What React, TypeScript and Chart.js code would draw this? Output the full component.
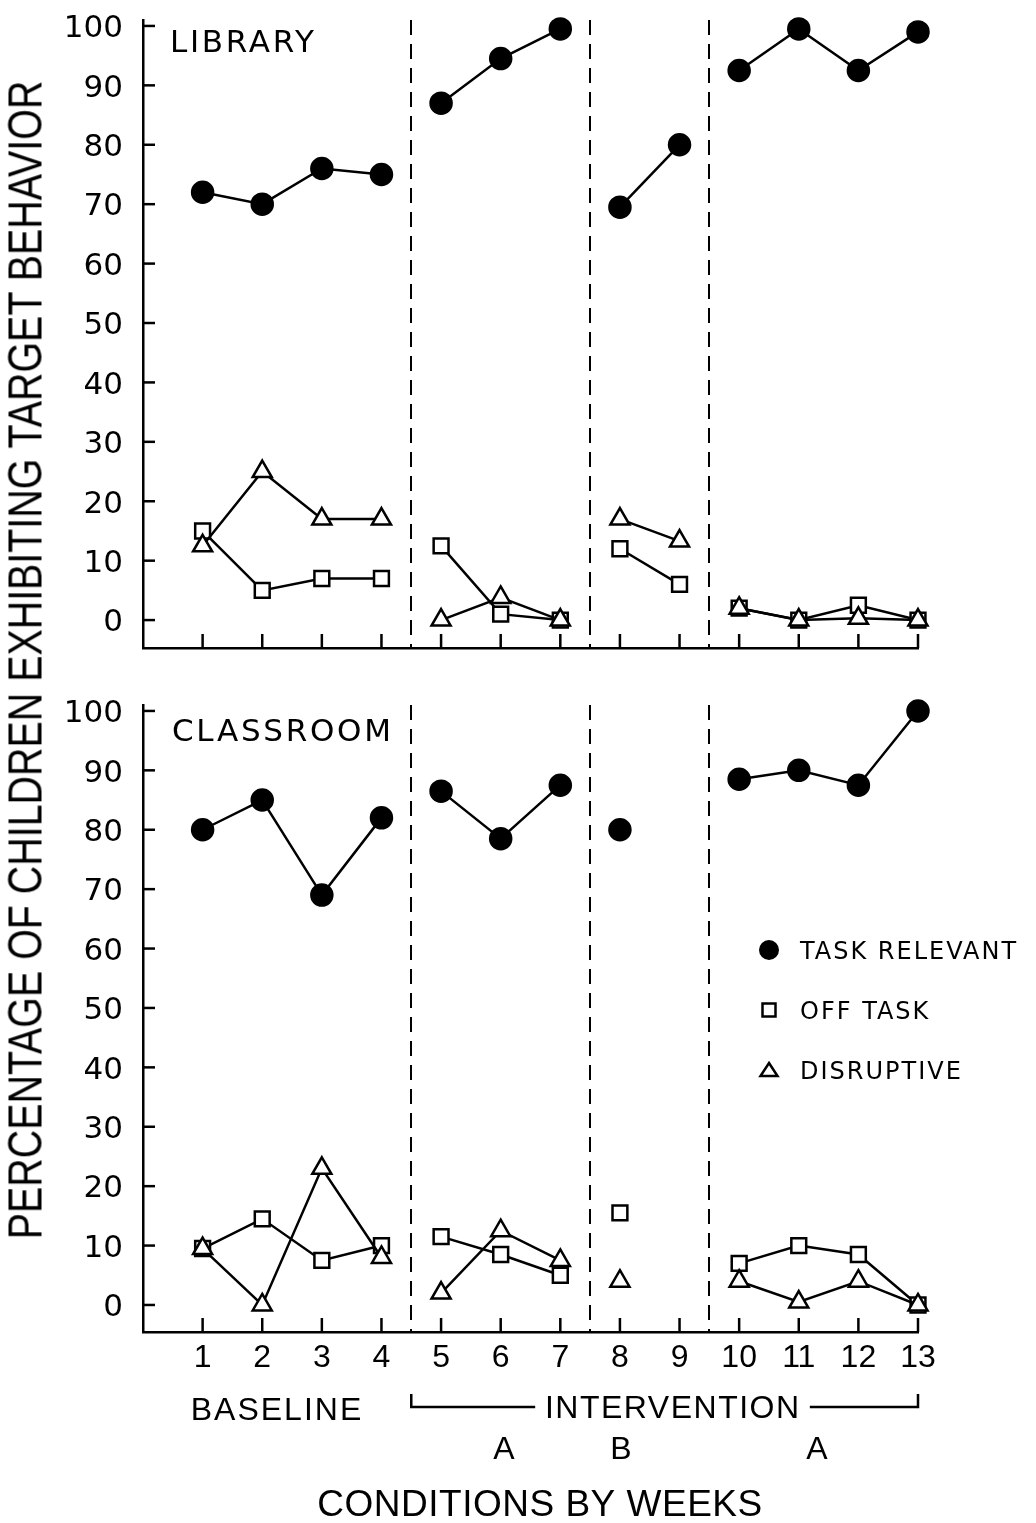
import React, { useEffect, useRef, useMemo } from "react";
import { Chart, registerables } from "chart.js";

Chart.register(...registerables);

// ---------- data ----------
const weeks = [1, 2, 3, 4, 5, 6, 7, 8, 9, 10, 11, 12, 13];
const phaseOfWeek = [0, 0, 0, 0, 1, 1, 1, 2, 2, 3, 3, 3, 3];
const phaseBoundaries = [4.5, 7.5, 9.5];
const yTickValues = [0, 10, 20, 30, 40, 50, 60, 70, 80, 90, 100];

const libraryTaskRelevant = [72, 70, 76, 75, 87, 94.5, 99.5, 69.5, 80, 92.5, 99.5, 92.5, 99];
const libraryOffTask = [15, 5, 7, 7, 12.5, 1, 0, 12, 6, 2, 0, 2.5, 0];
const libraryDisruptive = [12.5, 25, 17, 17, 0, 3.8, 0, 17, 13.3, 2, 0, 0.3, 0];

const classroomTaskRelevant = [80, 85, 69, 82, 86.5, 78.5, 87.5, 80, null, 88.5, 90, 87.5, 100];
const classroomOffTask = [9.5, 14.5, 7.5, 10, 11.5, 8.5, 5, 15.5, null, 7, 10, 8.5, 0];
const classroomDisruptive = [9.5, 0, 23, 8, 2, 12.5, 7.5, 4, null, 4, 0.5, 4, 0];

const seriesNames = ["TASK RELEVANT", "OFF TASK", "DISRUPTIVE"];
const panelTitles = ["LIBRARY", "CLASSROOM"];
const yAxisTitle = "PERCENTAGE OF CHILDREN EXHIBITING TARGET BEHAVIOR";
const xAxisTitle = "CONDITIONS BY WEEKS";
const baselineLabel = "BASELINE";
const interventionLabel = "INTERVENTION";
const subPhaseLabels = ["A", "B", "A"];

// ---------- layout ----------
const W = 1036;
const H = 1523;
const AXIS_LEFT = 143;
const PAD_RIGHT = 118;
const TOP_H = 680;
const BOTTOM_H = H - TOP_H;

const panelDecor = {
  id: "panelDecor",
  beforeDatasetsDraw(chart: any) {
    const { ctx, chartArea, scales } = chart;
    const x = scales.x;
    ctx.save();
    ctx.strokeStyle = "#000";
    ctx.lineWidth = 2;
    ctx.setLineDash([15, 9]);
    for (const b of phaseBoundaries) {
      const px = Math.round(x.getPixelForValue(b));
      ctx.beginPath();
      ctx.moveTo(px, chartArea.top);
      ctx.lineTo(px, chartArea.bottom);
      ctx.stroke();
    }
    ctx.restore();
  },
  afterDraw(chart: any, _args: any, opts: any) {
    const { ctx, chartArea, scales } = chart;
    const x = scales.x;
    const y = scales.y;
    ctx.save();
    ctx.strokeStyle = "#000";
    ctx.fillStyle = "#000";
    ctx.lineWidth = 2.5;
    // inward ticks
    for (const v of yTickValues) {
      const py = y.getPixelForValue(v);
      ctx.beginPath();
      ctx.moveTo(chartArea.left, py);
      ctx.lineTo(chartArea.left + 12, py);
      ctx.stroke();
    }
    for (const w of weeks) {
      const px = x.getPixelForValue(w);
      ctx.beginPath();
      ctx.moveTo(px, chartArea.bottom);
      ctx.lineTo(px, chartArea.bottom - 14);
      ctx.stroke();
    }
    // y tick labels
    ctx.font = '31px "DejaVu Sans"';
    ctx.letterSpacing = "0px";
    ctx.textAlign = "right";
    ctx.textBaseline = "alphabetic";
    for (const v of yTickValues) {
      const py = y.getPixelForValue(v);
      ctx.fillText(String(v), 123, py + 11.3);
    }
    // panel title
    ctx.font = '31px "DejaVu Sans"';
    ctx.letterSpacing = "2.7px";
    ctx.textAlign = "left";
    ctx.fillText(opts.title, opts.titleX, opts.titleBaseline);

    if (opts.legend) {
      const rows = [270, 330, 390];
      const mx = 769;
      ctx.font = '24px "DejaVu Sans"';
      ctx.letterSpacing = "2px";
      seriesNames.forEach((name, i) => {
        ctx.fillText(name, 800, rows[i] + 8.75);
      });
      // circle
      ctx.beginPath();
      ctx.arc(mx, rows[0], 10, 0, Math.PI * 2);
      ctx.fill();
      // square
      ctx.lineWidth = 2.5;
      ctx.fillStyle = "#fff";
      ctx.fillRect(mx - 6.5, rows[1] - 6.5, 13, 13);
      ctx.strokeRect(mx - 6.5, rows[1] - 6.5, 13, 13);
      // triangle
      ctx.beginPath();
      ctx.moveTo(mx, rows[2] - 7);
      ctx.lineTo(mx + 8.5, rows[2] + 6);
      ctx.lineTo(mx - 8.5, rows[2] + 6);
      ctx.closePath();
      ctx.fill();
      ctx.stroke();
      ctx.fillStyle = "#000";
    }

    if (opts.annotations) {
      ctx.font = '32px "Liberation Sans"';
      ctx.textAlign = "center";
      ctx.letterSpacing = "2px";
      ctx.fillText(baselineLabel, 277, 739.5);
      ctx.letterSpacing = "1.5px";
      const cx = 672;
      ctx.fillText(interventionLabel, cx + 0.75, 737.5);
      const tw = ctx.measureText(interventionLabel).width;
      const bl = x.getPixelForValue(4.5);
      const br = x.getPixelForValue(13);
      ctx.lineWidth = 2.5;
      ctx.beginPath();
      ctx.moveTo(bl, 714);
      ctx.lineTo(bl, 727);
      ctx.lineTo(cx - tw / 2 - 9, 727);
      ctx.moveTo(cx + tw / 2 + 10, 727);
      ctx.lineTo(br, 727);
      ctx.lineTo(br, 714);
      ctx.stroke();
      ctx.letterSpacing = "0px";
      const subX = [504, 621, 817];
      subPhaseLabels.forEach((s, i) => ctx.fillText(s, subX[i], 778.5));
      ctx.font = '37px "Liberation Sans"';
      ctx.letterSpacing = "0.5px";
      ctx.fillText(xAxisTitle, 540, 836);
    }
    ctx.restore();
  },
};

function makeDatasets(task: (number | null)[], off: (number | null)[], disr: (number | null)[]) {
  const toPoints = (vals: (number | null)[]) => weeks.map((w, i) => ({ x: w, y: vals[i] }));
  const segment = {
    borderColor: (c: any) =>
      phaseOfWeek[c.p0DataIndex] !== phaseOfWeek[c.p1DataIndex] ? "rgba(0,0,0,0)" : "#000",
  };
  const common = {
    borderColor: "#000",
    borderWidth: 2.5,
    pointBorderColor: "#000",
    pointBorderWidth: 2.5,
    spanGaps: false,
    clip: false,
    segment,
  };
  return [
    {
      ...common,
      label: seriesNames[0],
      data: toPoints(task),
      pointStyle: "circle",
      pointRadius: 10.5,
      pointBackgroundColor: "#000",
      order: 2,
    },
    {
      ...common,
      label: seriesNames[1],
      data: toPoints(off),
      pointStyle: "rect",
      pointRadius: 10.5,
      pointBackgroundColor: "#fff",
      order: 1,
    },
    {
      ...common,
      label: seriesNames[2],
      data: toPoints(disr),
      pointStyle: "triangle",
      pointRadius: 11,
      pointBackgroundColor: "#fff",
      order: 0,
    },
  ];
}

function makeOptions(cfg: any) {
  return {
    animation: false,
    responsive: false,
    maintainAspectRatio: false,
    events: [],
    layout: { padding: { top: cfg.padTop, right: PAD_RIGHT, left: 0, bottom: 0 } },
    plugins: {
      legend: { display: false },
      tooltip: { enabled: false },
      panelDecor: cfg.decor,
    },
    scales: {
      x: {
        type: "linear",
        min: 0,
        max: 13,
        grid: { display: false, drawTicks: false },
        border: { display: true, color: "#000", width: 2.5 },
        afterBuildTicks: (s: any) => {
          s.ticks = weeks.map((v) => ({ value: v }));
        },
        ticks: {
          display: cfg.showXLabels,
          autoSkip: false,
          maxRotation: 0,
          padding: 7,
          color: "#000",
          font: { family: '"Liberation Sans"', size: 32 },
        },
        afterFit: (s: any) => {
          s.height = cfg.xHeight;
        },
      },
      y: {
        type: "linear",
        min: cfg.yMin,
        max: 101,
        grid: { display: false, drawTicks: false },
        border: { display: true, color: "#000", width: 2.5 },
        ticks: { display: false },
        afterFit: (s: any) => {
          s.width = AXIS_LEFT;
        },
      },
    },
  };
}

function Panel(props: { top: number; height: number; datasets: any; options: any }) {
  const ref = useRef<HTMLCanvasElement>(null);
  useEffect(() => {
    if (!ref.current) return;
    const chart = new Chart(ref.current, {
      type: "line",
      data: { datasets: props.datasets },
      options: props.options,
      plugins: [panelDecor],
    } as any);
    return () => chart.destroy();
  }, []);
  return (
    <canvas
      ref={ref}
      width={W}
      height={props.height}
      style={{ position: "absolute", left: 0, top: props.top, width: W, height: props.height, display: "block" }}
    />
  );
}

export default function App() {
  const titleScale = useMemo(() => {
    const c = document.createElement("canvas").getContext("2d");
    if (!c) return 0.8;
    c.font = '49px "Liberation Sans"';
    const w = c.measureText(yAxisTitle).width;
    return w > 0 ? 1160 / w : 0.8;
  }, []);

  const topDatasets = makeDatasets(libraryTaskRelevant, libraryOffTask, libraryDisruptive);
  const bottomDatasets = makeDatasets(classroomTaskRelevant, classroomOffTask, classroomDisruptive);

  const topOptions = makeOptions({
    padTop: 20,
    yMin: -4.7,
    xHeight: TOP_H - 648,
    showXLabels: false,
    decor: { title: panelTitles[0], titleX: 170, titleBaseline: 51.5, legend: false, annotations: false },
  });
  const bottomOptions = makeOptions({
    padTop: 25,
    yMin: -4.55,
    xHeight: BOTTOM_H - 652,
    showXLabels: true,
    decor: { title: panelTitles[1], titleX: 172, titleBaseline: 60.5, legend: true, annotations: true },
  });

  return (
    <div style={{ position: "absolute", left: 0, top: 0, width: W, height: H, background: "#fff", overflow: "hidden" }}>
      <Panel top={0} height={TOP_H} datasets={topDatasets} options={topOptions} />
      <Panel top={TOP_H} height={BOTTOM_H} datasets={bottomDatasets} options={bottomOptions} />
      <div
        style={{
          position: "absolute",
          left: 25,
          top: 660,
          transform: `translate(-50%, -50%) rotate(-90deg) scaleX(${titleScale})`,
          whiteSpace: "nowrap",
          fontFamily: '"Liberation Sans"',
          fontSize: 49,
          lineHeight: "49px",
          color: "#000",
        }}
      >
        {yAxisTitle}
      </div>
    </div>
  );
}
